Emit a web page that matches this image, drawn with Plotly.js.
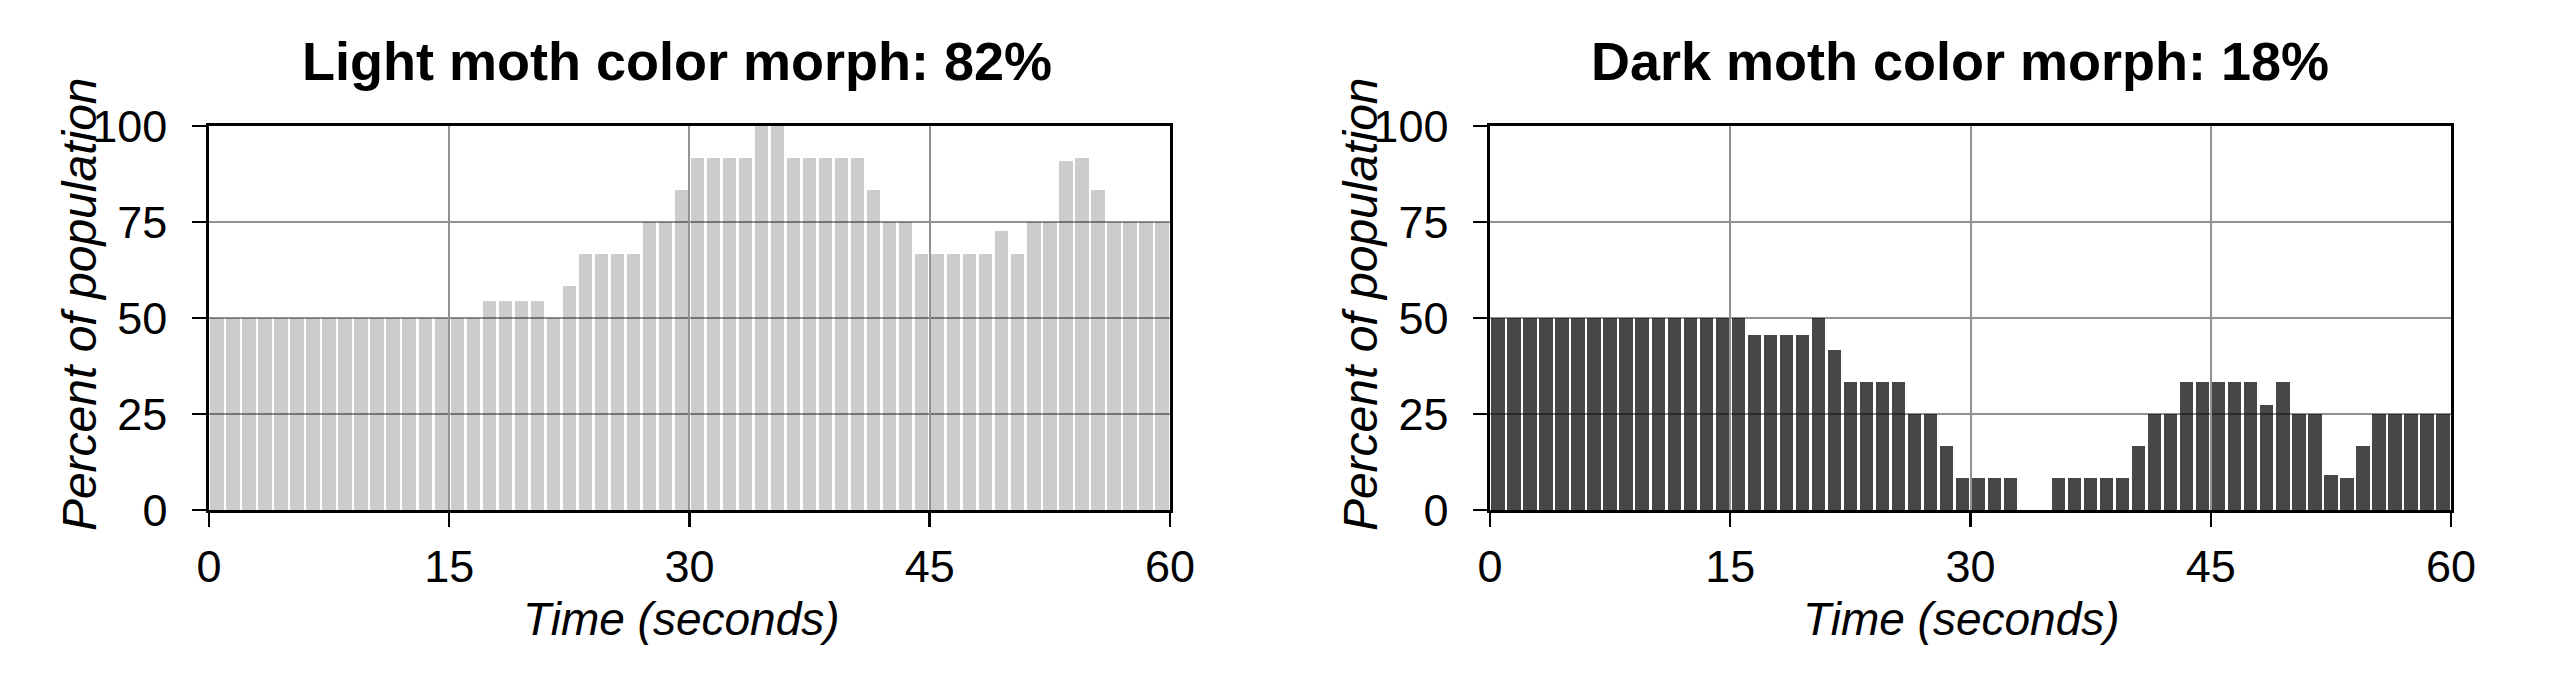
<!DOCTYPE html>
<html>
<head>
<meta charset="utf-8">
<script src="https://cdn.plot.ly/plotly-3.0.1.min.js"></script>
<style>
  html, body { margin: 0; padding: 0; background: #fff; }
  #moths { width: 2576px; height: 688px; }
</style>
</head>
<body>
<div id="moths"></div>
<script>
    // one bar per second of the run
    var seconds = [0, 1, 2, 3, 4, 5, 6, 7, 8, 9, 10, 11, 12, 13, 14, 15, 16, 17, 18, 19,
                   20, 21, 22, 23, 24, 25, 26, 27, 28, 29, 30, 31, 32, 33, 34, 35, 36, 37, 38, 39,
                   40, 41, 42, 43, 44, 45, 46, 47, 48, 49, 50, 51, 52, 53, 54, 55, 56, 57, 58, 59];

    var lightPct = [50, 50, 50, 50, 50, 50, 50, 50, 50, 50, 50, 50, 50, 50, 50, 50, 50,
                    54.5, 54.5, 54.5, 54.5, 50, 58.3, 66.7, 66.7, 66.7, 66.7, 75, 75, 83.3,
                    91.7, 91.7, 91.7, 91.7, 100, 100, 91.7, 91.7, 91.7, 91.7, 91.7, 83.3,
                    75, 75, 66.7, 66.7, 66.7, 66.7, 66.7, 72.7, 66.7, 75, 75, 90.9, 91.7,
                    83.3, 75, 75, 75, 75];

    var darkPct = [50, 50, 50, 50, 50, 50, 50, 50, 50, 50, 50, 50, 50, 50, 50, 50,
                   45.5, 45.5, 45.5, 45.5, 50, 41.7, 33.3, 33.3, 33.3, 33.3, 25, 25, 16.7,
                   8.3, 8.3, 8.3, 8.3, 0, 0, 8.3, 8.3, 8.3, 8.3, 8.3, 16.7, 25, 25,
                   33.3, 33.3, 33.3, 33.3, 33.3, 27.3, 33.3, 25, 25, 9.1, 8.3, 16.7,
                   25, 25, 25, 25, 25];

    var titles = ['Light moth color morph: 82%', 'Dark moth color morph: 18%'];
    var xTicks = [0, 15, 30, 45, 60];
    var yTicks = [0, 25, 50, 75, 100];

    var font = 'Liberation Sans, Arial, Helvetica, sans-serif';

    function bars(y, color, xa, ya) {
        return {
            type: 'bar',
            x: seconds,
            y: y,
            offset: 0.085,
            width: 0.83,
            xaxis: xa,
            yaxis: ya,
            marker: {color: color, line: {width: 0}},
            hoverinfo: 'skip'
        };
    }

    function xAxis(domain, anchor) {
        return {
            domain: domain,
            anchor: anchor,
            range: [0, 60],
            tickvals: xTicks,
            ticks: 'outside',
            ticklen: 14,
            tickwidth: 2.5,
            tickcolor: '#000',
            ticklabelstandoff: 1,
            showline: true,
            linewidth: 2.5,
            linecolor: '#000',
            mirror: true,
            showgrid: true,
            gridcolor: '#929292',
            gridwidth: 2,
            zeroline: false,
            tickfont: {family: font, size: 45, color: '#000'},
            fixedrange: true
        };
    }

    function yAxis(anchor) {
        return {
            domain: [0.2587, 0.8169],
            anchor: anchor,
            range: [0, 100],
            tickvals: yTicks,
            ticks: 'outside',
            ticklen: 14,
            tickwidth: 2.5,
            tickcolor: '#000',
            ticklabelstandoff: 16,
            showline: true,
            linewidth: 2.5,
            linecolor: '#000',
            mirror: true,
            showgrid: true,
            gridcolor: '#929292',
            gridwidth: 2,
            zeroline: false,
            tickfont: {family: font, size: 45, color: '#000'},
            fixedrange: true
        };
    }

    function label(text, x, y, size, bold, italic, angle) {
        return {
            text: bold ? '<b>' + text + '</b>' : text,
            xref: 'paper', yref: 'paper',
            x: x, y: y,
            xanchor: 'center', yanchor: 'middle',
            showarrow: false,
            textangle: angle || 0,
            font: {family: font, size: size, color: '#000', style: italic ? 'italic' : 'normal'}
        };
    }

    var data = [
        bars(lightPct, 'rgba(0,0,0,0.2)', 'x', 'y'),
        bars(darkPct, 'rgba(0,0,0,0.72)', 'x2', 'y2')
    ];

    var layout = {
        width: 2576,
        height: 688,
        margin: {t: 0, r: 0, l: 0, b: 0},
        paper_bgcolor: '#fff',
        plot_bgcolor: '#fff',
        showlegend: false,
        bargap: 0,
        hovermode: false,
        xaxis: xAxis([0.0811, 0.4542], 'y'),
        yaxis: yAxis('x'),
        xaxis2: xAxis([0.5784, 0.9515], 'y2'),
        yaxis2: yAxis('x2'),
        annotations: [
            label(titles[0], 677 / 2576, 0.912, 54, true, false),
            label(titles[1], 1960 / 2576, 0.912, 54, true, false),
            label('Time (seconds)', 681 / 2576, 0.1, 46, false, true),
            label('Time (seconds)', 1961 / 2576, 0.1, 46, false, true),
            label('Percent of population', 79 / 2576, 0.558, 48, false, true, -90),
            label('Percent of population', 1360 / 2576, 0.558, 48, false, true, -90)
        ]
    };

    Plotly.newPlot('moths', data, layout, {staticPlot: true, displayModeBar: false});
</script>
</body>
</html>
